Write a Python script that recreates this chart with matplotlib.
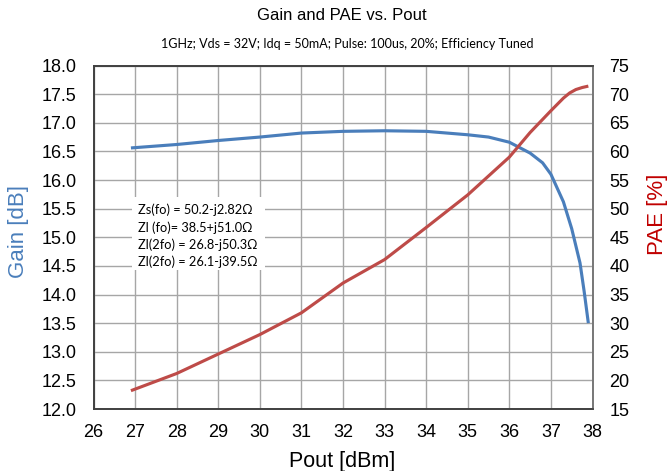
import matplotlib
matplotlib.use("Agg")
import matplotlib.pyplot as plt
from matplotlib.patches import Rectangle
import numpy as np

pout_gain = [26.9, 28.0, 29.0, 30.0, 31.0, 32.0, 33.0, 34.0, 35.0, 35.5, 36.0, 36.5, 36.8, 37.0, 37.3, 37.5, 37.7, 37.8, 37.9]
gain = [16.56, 16.62, 16.69, 16.75, 16.82, 16.85, 16.86, 16.85, 16.79, 16.75, 16.66, 16.47, 16.30, 16.10, 15.62, 15.15, 14.55, 14.05, 13.50]

pout_pae = [26.9, 28.0, 29.0, 30.0, 31.0, 32.0, 33.0, 34.0, 35.0, 35.5, 36.0, 36.5, 37.0, 37.3, 37.45, 37.6, 37.75, 37.9]
pae = [18.2, 21.2, 24.6, 28.0, 31.8, 37.0, 41.1, 46.7, 52.4, 55.7, 59.0, 63.3, 67.1, 69.3, 70.2, 70.8, 71.15, 71.4]

impedances = ["Zs(fo) = 50.2-j2.82\u03a9",
              "Zl (fo)= 38.5+j51.0\u03a9",
              "Zl(2fo) = 26.8-j50.3\u03a9",
              "Zl(2fo) = 26.1-j39.5\u03a9"]

title = "Gain and PAE vs. Pout"
subtitle = "1GHz; Vds = 32V; Idq = 50mA; Pulse: 100us, 20%; Efficiency Tuned"
gain_ticks = np.arange(12.0, 18.01, 0.5)
pae_ticks = np.arange(15, 76, 5)
pout_ticks = np.arange(26, 39, 1)

blue = "#4a7ebb"
red = "#be4b48"
label_red = "#c00000"
grid_c = "#a6a6a6"

plt.rcParams['font.family'] = ['Liberation Sans', 'DejaVu Sans']

W, H = 668, 471
fig = plt.figure(figsize=(W/100, H/100), dpi=100)
ax = fig.add_axes([93.5/W, 1-409/H, (592.5-93.5)/W, (409-65.5)/H])
ax2 = ax.twinx()

ax.set_xlim(26, 38)
ax.set_ylim(12.0, 18.0)
ax2.set_ylim(15, 75)
ax.set_xticks(pout_ticks)
ax.set_yticks(gain_ticks)
ax.set_yticklabels([f"{v:.1f}" for v in gain_ticks])
ax2.set_yticks(pae_ticks)

ax.grid(True, color=grid_c, linewidth=1.0)
ax.set_axisbelow(True)

ax.plot(pout_gain, gain, color=blue, linewidth=2.25, solid_capstyle='butt', zorder=3)
ax2.plot(pout_pae, pae, color=red, linewidth=2.25, solid_capstyle='butt', zorder=3)

for a in (ax, ax2):
    a.tick_params(axis='y', length=0, labelsize=13, pad=12)
    for s in a.spines.values():
        s.set_color("#404040")
        s.set_linewidth(1.2)
ax.tick_params(axis='x', length=0, labelsize=13, pad=11)
ax2.spines['right'].set_color("#808080")

fig.text(342.5/W, 1-461/H, "Pout [dBm]", ha='center', va='center', fontsize=15.5)
fig.text(19/W, 1-231.5/H, "Gain [dB]", ha='center', va='center', fontsize=16,
         rotation=90, color=blue)
fig.text(658/W, 1-214.5/H, "PAE [%]", ha='center', va='center', fontsize=16,
         rotation=90, color=label_red)

fig.text(342/W, 1-16/H, title, ha='center', va='center', fontsize=12)
fig.text(347/W, 1-44/H, subtitle, ha='center', va='center', fontsize=9,
         family=['Lato', 'DejaVu Sans'])

# white box behind the annotation
box = Rectangle((132/W, 1-270/H), (265-132)/W, (270-197)/H, transform=fig.transFigure,
                facecolor='white', edgecolor='none', zorder=1.5)
fig.add_artist(box)

y0 = 210
for i, t in enumerate(impedances):
    fig.text(138/W, 1-(y0 + i*17.3)/H, t, ha='left', va='center', fontsize=9.2,
             family=['Lato', 'DejaVu Sans'], zorder=2)

fig.savefig("out.png", dpi=100)
